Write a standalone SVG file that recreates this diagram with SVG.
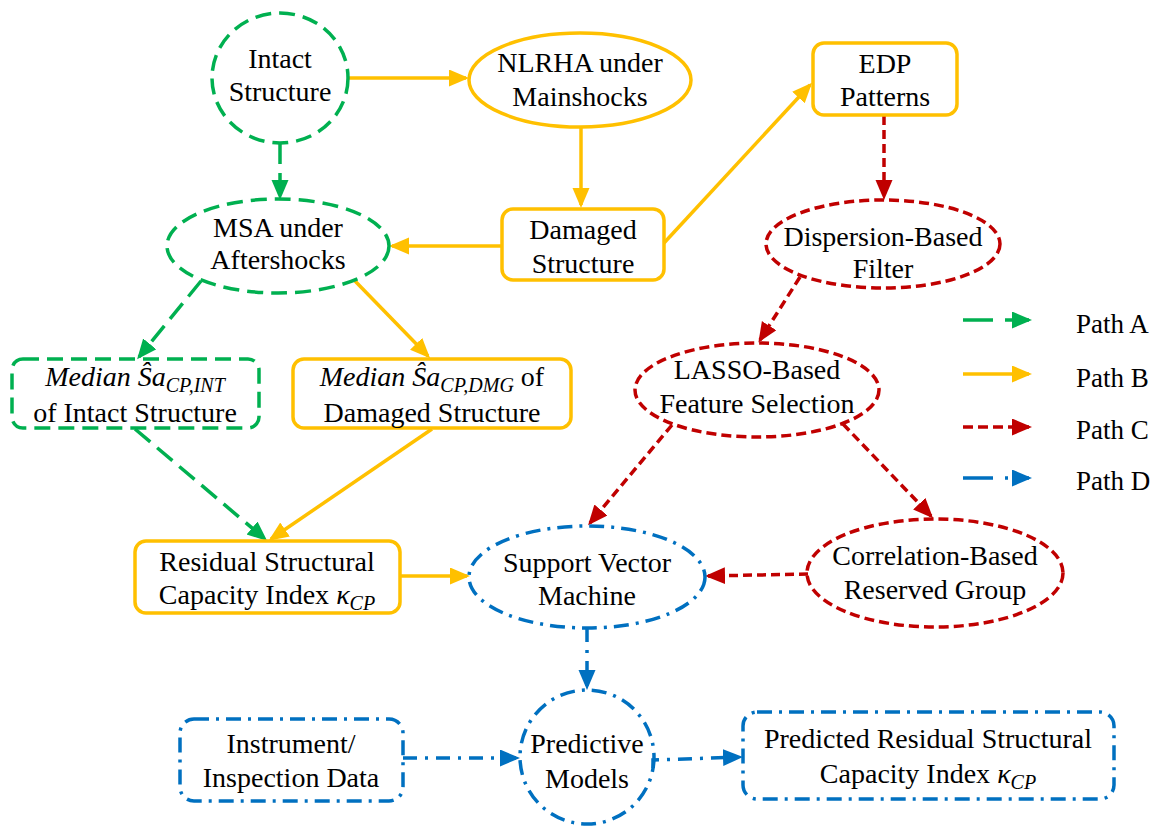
<svg xmlns="http://www.w3.org/2000/svg" width="1164" height="826" viewBox="0 0 1164 826" font-family="'Liberation Serif', Tinos, 'Times New Roman', 'DejaVu Serif', serif">
<style>
text{font-family:"Liberation Serif",Tinos,"Times New Roman","DejaVu Serif",serif;font-size:28px;fill:#000;text-anchor:middle}
.it{font-style:italic}
.sub{font-style:italic;font-size:20px}
.leg{text-anchor:start;font-size:27px}
.g{fill:none;stroke:#00B050;stroke-width:3.5;stroke-dasharray:16 8}
.y{fill:none;stroke:#FFC000;stroke-width:3.5}
.r{fill:none;stroke:#C00000;stroke-width:3.5;stroke-dasharray:10 5}
.b{fill:none;stroke:#0070C0;stroke-width:3.5;stroke-dasharray:15 7 3 7}
.cg{fill:none;stroke:#00B050;stroke-width:3.5;stroke-dasharray:20 9}
.cy{fill:none;stroke:#FFC000;stroke-width:3.5}
.cr{fill:none;stroke:#C00000;stroke-width:3.5;stroke-dasharray:9 5}
.cb{fill:none;stroke:#0070C0;stroke-width:3.5;stroke-dasharray:14 8 3 8}
</style>
<defs>
<marker id="ag" markerUnits="userSpaceOnUse" markerWidth="20" markerHeight="18" refX="17" refY="8.5" orient="auto"><path d="M0,0 L20,8.5 L0,17 z" fill="#00B050"/></marker>
<marker id="ay" markerUnits="userSpaceOnUse" markerWidth="20" markerHeight="18" refX="17" refY="8.5" orient="auto"><path d="M0,0 L20,8.5 L0,17 z" fill="#FFC000"/></marker>
<marker id="ar" markerUnits="userSpaceOnUse" markerWidth="20" markerHeight="18" refX="17" refY="8.5" orient="auto"><path d="M0,0 L20,8.5 L0,17 z" fill="#C00000"/></marker>
<marker id="ab" markerUnits="userSpaceOnUse" markerWidth="20" markerHeight="18" refX="17" refY="8.5" orient="auto"><path d="M0,0 L20,8.5 L0,17 z" fill="#0070C0"/></marker>
</defs>

<g id="connectors">
<path class="cy" d="M348,78 L466,78" marker-end="url(#ay)"/>
<path class="cg" d="M280,144 L280,197" marker-end="url(#ag)"/>
<path class="cy" d="M581,127 L581,205" marker-end="url(#ay)"/>
<path class="cy" d="M502,246 L392,246" marker-end="url(#ay)"/>
<path class="cy" d="M664,243 L810,85" marker-end="url(#ay)"/>
<path class="cr" d="M884,116 L884,197" marker-end="url(#ar)"/>
<path class="cg" d="M201,281 L139,357" marker-end="url(#ag)"/>
<path class="cy" d="M355,281 L428,356" marker-end="url(#ay)"/>
<path class="cr" d="M800,277 L760,340" marker-end="url(#ar)"/>
<path class="cg" d="M135,429 L265,539" marker-end="url(#ag)"/>
<path class="cy" d="M432,429 L271,539" marker-end="url(#ay)"/>
<path class="cr" d="M672,425 L590,523" marker-end="url(#ar)"/>
<path class="cr" d="M843,424 L931,516" marker-end="url(#ar)"/>
<path class="cy" d="M400,576 L467,576" marker-end="url(#ay)"/>
<path class="cr" d="M808,574 L708,576" marker-end="url(#ar)"/>
<path class="cb" d="M587,628 L587,687" marker-end="url(#ab)"/>
<path class="cb" d="M403,758 L517,758" marker-end="url(#ab)"/>
<path class="cb" d="M653,768 L653,760 L740,757" marker-end="url(#ab)"/>
</g>

<g id="intact">
<ellipse class="g" cx="280" cy="78" rx="68" ry="65"/>
<text x="280" y="68">Intact</text>
<text x="280" y="101">Structure</text>
</g>
<g id="nlrha">
<ellipse class="y" cx="580" cy="80" rx="111" ry="47"/>
<text x="580" y="72">NLRHA under</text>
<text x="580" y="106">Mainshocks</text>
</g>
<g id="edp">
<rect class="y" x="813" y="43" width="144" height="72" rx="11"/>
<text x="885" y="73">EDP</text>
<text x="885" y="106">Patterns</text>
</g>
<g id="msa">
<ellipse class="g" cx="278" cy="246" rx="111" ry="47"/>
<text x="278" y="237">MSA under</text>
<text x="278" y="269">Aftershocks</text>
</g>
<g id="damaged">
<rect class="y" x="502" y="209" width="162" height="71" rx="11"/>
<text x="583" y="239">Damaged</text>
<text x="583" y="273">Structure</text>
</g>
<g id="dispersion">
<ellipse class="r" cx="883" cy="244" rx="117" ry="44"/>
<text x="883" y="246">Dispersion-Based</text>
<text x="883" y="278">Filter</text>
</g>
<g id="median-int">
<rect class="g" x="12" y="359" width="247" height="69" rx="11"/>
<text x="135" y="386"><tspan class="it">Median Ŝa</tspan><tspan class="sub" dy="6">CP,INT</tspan></text>
<text x="135" y="422">of Intact Structure</text>
</g>
<g id="median-dmg">
<rect class="y" x="293" y="359" width="278" height="69" rx="11"/>
<text x="432" y="386"><tspan class="it">Median Ŝa</tspan><tspan class="sub" dy="6">CP,DMG</tspan><tspan dy="-6"> of</tspan></text>
<text x="432" y="422">Damaged Structure</text>
</g>
<g id="lasso">
<ellipse class="r" cx="757" cy="390" rx="122" ry="47"/>
<text x="757" y="379">LASSO-Based</text>
<text x="757" y="413">Feature Selection</text>
</g>
<g id="residual">
<rect class="y" x="135" y="541" width="265" height="72" rx="11"/>
<text x="267" y="571">Residual Structural</text>
<text x="267" y="604">Capacity Index <tspan class="it">κ</tspan><tspan class="sub" dy="6">CP</tspan></text>
</g>
<g id="svm">
<ellipse class="b" cx="587" cy="577" rx="118" ry="51"/>
<text x="587" y="572">Support Vector</text>
<text x="587" y="605">Machine</text>
</g>
<g id="correlation">
<ellipse class="r" cx="935" cy="573" rx="128" ry="54"/>
<text x="935" y="565">Correlation-Based</text>
<text x="935" y="599">Reserved Group</text>
</g>
<g id="instrument">
<rect class="b" x="180" y="719" width="223" height="82" rx="14"/>
<text x="291" y="753">Instrument/</text>
<text x="291" y="787">Inspection Data</text>
</g>
<g id="predictive">
<ellipse class="b" cx="587" cy="757" rx="67" ry="67"/>
<text x="587" y="753">Predictive</text>
<text x="587" y="788">Models</text>
</g>
<g id="predicted">
<rect class="b" x="743" y="712" width="371" height="87" rx="14"/>
<text x="928" y="748">Predicted Residual Structural</text>
<text x="928" y="783">Capacity Index <tspan class="it">κ</tspan><tspan class="sub" dy="6">CP</tspan></text>
</g>

<g id="legend">
<path d="M963,320 L1029,320" fill="none" stroke="#00B050" stroke-width="3.5" stroke-dasharray="30 12" marker-end="url(#ag)"/>
<path d="M963,374 L1029,374" fill="none" stroke="#FFC000" stroke-width="3.5" marker-end="url(#ay)"/>
<path d="M963,427 L1029,427" fill="none" stroke="#C00000" stroke-width="3.5" stroke-dasharray="10 5" marker-end="url(#ar)"/>
<path d="M963,478 L1029,478" fill="none" stroke="#0070C0" stroke-width="3.5" stroke-dasharray="30 12 3 12" marker-end="url(#ab)"/>
<text class="leg" x="1076" y="333">Path A</text>
<text class="leg" x="1076" y="387">Path B</text>
<text class="leg" x="1076" y="439">Path C</text>
<text class="leg" x="1076" y="490">Path D</text>
</g>
</svg>
